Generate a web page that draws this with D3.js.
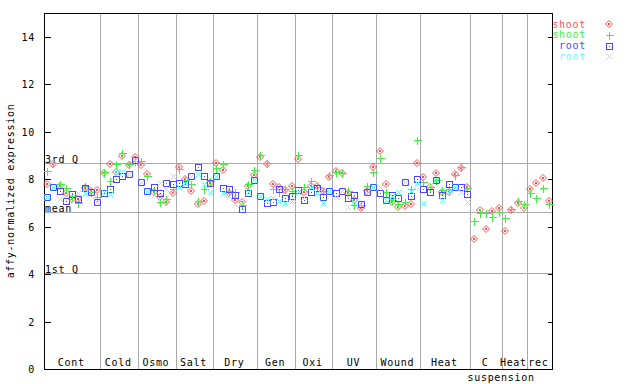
<!DOCTYPE html>
<html>
<head>
<meta charset="utf-8">
<script src="https://cdn.jsdelivr.net/npm/d3@7"></script>
<style>
	body { margin: 0; background: #fff; }
	svg text { font-family: "DejaVu Sans Mono", monospace; font-size: 10px; letter-spacing: 0.7px; }
</style>
</head>
<body>
<div id="chart"></div>
<script>
// sample groups along the x axis and how many samples each holds
const groups = ['Cont', 'Cold', 'Osmo', 'Salt', 'Dry', 'Gen', 'Oxi', 'UV', 'Wound', 'Heat', 'C suspension', 'Heat', 'rec'];
const groupSizes = [9, 6, 6, 6, 7, 6, 6, 7, 7, 8, 5, 4, 4];

// shoot replicate 1 (red diamonds)
const shoot1 = [
	7.80, 8.65, 7.71, 7.43, 7.15, 7.15, 7.61, 7.50, 7.54,
	8.27, 8.63, 8.32, 8.97, 8.60, 8.95,
	8.60, 8.20, 7.47, 7.23, 7.02, 7.40,
	8.50, 8.00, 7.51, 6.95, 7.09, 7.82,
	8.67, 8.39, 7.43, 7.12, 7.05, 7.70, 8.18,
	8.92, 8.65, 7.80, 7.66, 7.55, 7.71,
	8.84, 7.47, 7.70, 7.71, 7.49, 8.08,
	8.34, 8.25, 7.42, 7.13, 6.77, 7.52, 8.50,
	9.19, 7.78, 7.05, 6.83, 6.87, 6.95, 8.67,
	8.10, 7.66, 8.25, 7.47, 7.44, 8.22, 8.47, 7.68,
	5.47, 6.70, 5.89, 6.67, 6.77,
	5.82, 6.70, 6.98, 6.77,
	7.57, 7.85, 8.04, 7.07
];
// shoot replicate 2 (green plus)
const shoot2 = [
	8.34, 8.69, 7.80, 7.61, 7.30, 7.01, 7.72, 7.45, 7.26,
	8.29, 7.92, 8.64, 9.09, 8.62, 8.75,
	8.77, 8.13, 7.55, 7.02, 7.15, 7.57,
	8.44, 7.96, 7.80, 7.07, 7.57, 7.93,
	8.46, 8.63, 7.50, 7.47, 6.91, 7.78, 8.37,
	9.02, 8.67, 7.57, 7.45, 7.57, 7.51,
	9.02, 7.68, 7.93, 7.65, 7.52, 8.18,
	8.30, 8.27, 7.51, 6.91, 6.90, 7.69, 8.29,
	8.89, 7.44, 7.12, 6.94, 7.02, 7.57, 9.65,
	7.86, 7.68, 7.95, 7.55, 7.59, 8.18, 8.50, 7.61,
	6.25, 6.56, 6.56, 6.39, 6.60,
	6.35, 6.73, 7.09, 6.94,
	7.40, 7.19, 7.61, 6.94
];
// root replicate 1 (blue squares), no root samples after Heat
const root1 = [
	7.23, 7.66, 7.50, 7.09, 7.37, 7.15, 7.61, 7.47, 7.05,
	7.40, 7.57, 7.99, 8.15, 8.20, 8.81,
	7.89, 7.51, 7.68, 7.40, 7.85, 7.80,
	7.82, 7.80, 8.15, 8.50, 8.15, 7.82,
	8.15, 7.61, 7.57, 7.32, 6.73, 7.40, 7.96,
	7.31, 6.98, 7.02, 7.57, 7.19, 7.30,
	7.55, 7.12, 7.47, 7.61, 7.25, 7.51,
	7.40, 7.48, 7.19, 7.33, 6.95, 7.47, 7.68,
	7.40, 7.12, 7.33, 7.19, 7.88, 7.30, 8.00,
	7.59, 7.47, 7.96, 7.33, 7.78, 7.66, 7.68, 7.36,
	null, null, null, null, null,
	null, null, null, null,
	null, null, null, null
];
// root replicate 2 (cyan crosses)
const root2 = [
	7.23, 7.66, 7.15, 7.35, 7.26, 7.43, 7.43, 7.47, 7.05,
	7.45, 7.37, 8.30, 8.32, 8.20, 8.81,
	7.89, 7.51, 7.35, 7.82, 7.60, 8.13,
	7.68, 7.85, 8.15, 8.22, 7.80, 7.47,
	8.15, 7.40, 7.29, 6.95, 7.00, 7.45, 7.96,
	7.31, 7.15, 7.19, 7.08, 7.01, 7.09,
	7.47, 7.26, 7.68, 7.40, 7.01, 7.51,
	7.26, 7.48, 6.83, 7.05, 6.95, 7.47, 7.68,
	7.67, 7.12, 7.30, 7.45, 7.88, 7.50, 7.82,
	6.98, 7.75, 7.96, 7.12, 7.50, 7.66, 7.44, 7.05,
	null, null, null, null, null,
	null, null, null, null,
	null, null, null, null
];

const yTicks = [0, 2, 4, 6, 8, 10, 12, 14];
const refLines = [
	{ label: '3rd Q', value: 8.68 },
	{ label: 'mean', value: 6.60 },
	{ label: '1st Q', value: 4.06 }
];

const series = [
	{ name: 'shoot', values: shoot1, color: '#ff5050', shape: 'diamond' },
	{ name: 'shoot', values: shoot2, color: '#40f040', shape: 'plus' },
	{ name: 'root', values: root1, color: '#4848ff', shape: 'square' },
	{ name: 'root', values: root2, color: '#60ffff', shape: 'cross' }
];

const width = 640, height = 384;
const margin = { left: 44, right: 88, top: 13, bottom: 15 };
const nSamples = d3.sum(groupSizes);

const svg = d3.select('#chart').append('svg')
	.attr('width', width)
	.attr('height', height);

const x = d3.scaleBand()
	.domain(d3.range(nSamples))
	.range([margin.left, width - margin.right]);

const y = d3.scaleLinear()
	.domain([0, 15])
	.range([height - margin.bottom, margin.top]);

// group boundaries (start index of each group)
const groupStarts = [];
groupSizes.reduce((acc, n) => { groupStarts.push(acc); return acc + n; }, 0);

// gray separators between groups
svg.append('g')
	.selectAll('line')
	.data(groupStarts.slice(1))
	.enter()
	.append('line')
	.attr('x1', (s) => Math.round(x(s)) + 0.5)
	.attr('x2', (s) => Math.round(x(s)) + 0.5)
	.attr('y1', y(15))
	.attr('y2', y(0))
	.attr('stroke', '#aaaaaa');

// quartile / mean lines
const refs = svg.append('g');
refs.selectAll('line')
	.data(refLines)
	.enter()
	.append('line')
	.attr('x1', margin.left)
	.attr('x2', width - margin.right)
	.attr('y1', (d) => Math.round(y(d.value)) + 0.5)
	.attr('y2', (d) => Math.round(y(d.value)) + 0.5)
	.attr('stroke', '#aaaaaa');
refs.selectAll('text')
	.data(refLines)
	.enter()
	.append('text')
	.attr('x', margin.left + 1)
	.attr('y', (d) => Math.round(y(d.value)))
	.attr('fill', '#000')
	.text((d) => d.label);

// axes, ticks pointing inside the frame
const leftAxis = svg.append('g')
	.attr('transform', `translate(${margin.left + 0.5},0)`)
	.call(d3.axisRight(y).tickValues(yTicks).tickSize(6).tickFormat(''));
const rightAxis = svg.append('g')
	.attr('transform', `translate(${width - margin.right + 0.5},0)`)
	.call(d3.axisLeft(y).tickValues(yTicks).tickSize(5).tickFormat(''));
[leftAxis, rightAxis].forEach((ax) => {
	ax.select('.domain').remove();
	ax.selectAll('line').attr('stroke', '#000').attr('shape-rendering', 'crispEdges');
});

svg.append('g')
	.selectAll('text')
	.data(yTicks)
	.enter()
	.append('text')
	.attr('x', 35)
	.attr('y', (d) => y(d) + 4)
	.attr('text-anchor', 'end')
	.text((d) => d);

svg.append('rect')
	.attr('x', margin.left + 0.5)
	.attr('y', margin.top + 0.5)
	.attr('width', width - margin.right - margin.left)
	.attr('height', height - margin.bottom - margin.top)
	.attr('fill', 'none')
	.attr('stroke', '#000')
	.attr('shape-rendering', 'crispEdges');

svg.append('text')
	.attr('transform', `translate(14,${(y(0) + y(15)) / 2}) rotate(-90)`)
	.attr('text-anchor', 'middle')
	.text('affy-normalized expression');

// group labels
const labels = svg.append('g');
groups.forEach((g, gi) => {
	const s = groupStarts[gi];
	const cx = (x(s) + x(s + groupSizes[gi] - 1) + x.bandwidth()) / 2;
	const words = g.split(' ');
	labels.append('text')
		.attr('x', cx - 1)
		.attr('y', height - margin.bottom - 3)
		.attr('text-anchor', 'middle')
		.text(words[0]);
	if(words.length > 1) {
		labels.append('text')
			.attr('x', x(s) - 3)
			.attr('y', height - 3)
			.text(words.slice(1).join(' '));
	}
});

// marker drawing
function drawMarker(sel, shape, color) {
	if(shape == 'diamond') {
		sel.append('path').attr('d', 'M0,-3.5L3.5,0L0,3.5L-3.5,0Z')
			.attr('fill', 'none').attr('stroke', color);
		sel.append('rect').attr('x', -1).attr('y', -1).attr('width', 2).attr('height', 2).attr('fill', color);
	}
	else if(shape == 'plus') {
		sel.append('path').attr('d', 'M-3.5,0.5H4.5M0.5,-3.5V4.5')
			.attr('stroke', color).attr('stroke-width', 1).attr('shape-rendering', 'crispEdges');
	}
	else if(shape == 'square') {
		sel.append('rect').attr('x', -2.5).attr('y', -2.5).attr('width', 6).attr('height', 6)
			.attr('fill', 'none').attr('stroke', color).attr('stroke-width', 1).attr('shape-rendering', 'crispEdges');
		sel.append('rect').attr('x', 0).attr('y', 0).attr('width', 1).attr('height', 1).attr('fill', color);
	}
	else {
		sel.append('path').attr('d', 'M-2.5,-2.5L3.5,3.5M-2.5,3.5L3.5,-2.5')
			.attr('stroke', color).attr('stroke-width', 1);
	}
}

series.forEach((ser) => {
	const pts = ser.values
		.map((v, i) => ({ i: i, v: v }))
		.filter((d) => d.v != null);
	svg.append('g')
		.selectAll('g')
		.data(pts)
		.enter()
		.append('g')
		.attr('transform', (d) => `translate(${Math.round(x(d.i) + x.bandwidth() / 2)},${Math.round(y(d.v))})`)
		.each(function() { drawMarker(d3.select(this), ser.shape, ser.color); });
});

// legend
const legend = svg.append('g');
series.forEach((ser, si) => {
	const ly = 24 + si * 10.8;
	legend.append('text')
		.attr('x', 586)
		.attr('y', ly + 3.5)
		.attr('text-anchor', 'end')
		.attr('fill', ser.color)
		.text(ser.name);
	const m = legend.append('g').attr('transform', `translate(609,${Math.round(ly)})`);
	drawMarker(m, ser.shape, ser.color);
});
</script>
</body>
</html>
